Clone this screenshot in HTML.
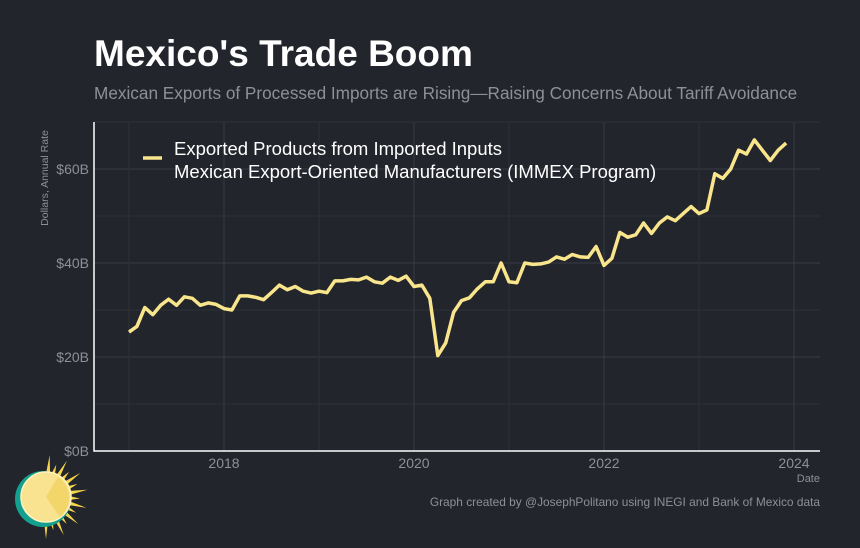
<!DOCTYPE html>
<html><head><meta charset="utf-8"><style>
html,body{margin:0;background:#22252c;overflow:hidden;width:860px;height:548px;}
svg{display:block;}
svg text{font-family:"Liberation Sans",sans-serif;}
</style></head><body>
<svg width="860" height="548" xmlns="http://www.w3.org/2000/svg">
<rect width="860" height="548" fill="#22252c"/>
<text x="94" y="66" font-size="37" font-weight="bold" fill="#fff">Mexico's Trade Boom</text>
<text x="94" y="99" font-size="17.2" fill="#8e9097">Mexican Exports of Processed Imports are Rising—Raising Concerns About Tariff Avoidance</text>
<g id="grid"></g>
<g id="axes"></g>
<path id="line" fill="none" stroke="#f9e58b" stroke-width="3.5" stroke-linejoin="round"/>
<g>
<line x1="143" y1="158" x2="162" y2="158" stroke="#f9e58b" stroke-width="3.5"/>
<text x="174" y="155" font-size="18.5" fill="#fff">Exported Products from Imported Inputs</text>
<text x="174" y="178" font-size="18.5" fill="#fff">Mexican Export-Oriented Manufacturers (IMMEX Program)</text>
</g>
<text transform="translate(48,178) rotate(-90)" text-anchor="middle" font-size="10.5" fill="#8e9097">Dollars, Annual Rate</text>
<text x="820" y="482" text-anchor="end" font-size="11" fill="#8e9097">Date</text>
<text x="820" y="506" text-anchor="end" font-size="11.9" fill="#8e9097">Graph created by @JosephPolitano using INEGI and Bank of Mexico data</text>
<g>
<g fill="#f5d54a" id="rays"></g>
<circle cx="43" cy="499" r="28" fill="#14a08e"/>
<circle cx="46" cy="497" r="25" fill="#f9e290" stroke="#fff3c0" stroke-width="1.5"/>
<path d="M46,497 L58,477 A25,25 0 0 1 60,517 Z" fill="#f3d66a"/>
</g>
</svg>
<script>
const yearLabels=["2018","2020","2022","2024"];
const yearTicks=[2018,2020,2022,2024];
const yTicks=[0,20,40,60];
const yTickLabels=["$0B","$20B","$40B","$60B"];
const startYear=2017;
const values=[25.3,26.5,30.5,29,31,32.3,31,32.8,32.5,31,31.5,31.2,
30.3,30,33,33,32.7,32.2,33.7,35.3,34.3,35,34,33.6,
34,33.7,36.2,36.2,36.5,36.4,37,36,35.7,37,36.3,37.2,
35,35.3,32.5,20.3,23,29.5,32,32.6,34.5,36,36,40,
36,35.8,40,39.7,39.8,40.2,41.3,40.8,41.8,41.3,41.2,43.5,
39.5,41,46.5,45.5,46,48.5,46.3,48.5,49.8,49,50.5,52,
50.5,51.3,59,58,60,64,63.2,66.2,64,61.8,64,65.5];
const NS="http://www.w3.org/2000/svg";
const L=94,R=820,T=122,B=451;
function xs(t){return 224+(t-2018)*95;}
function ys(v){return B-v*4.7;}
const grid=document.getElementById('grid'),axes=document.getElementById('axes');
function mk(p,tag,a){const e=document.createElementNS(NS,tag);for(const k in a)e.setAttribute(k,a[k]);p.appendChild(e);return e;}
for(let v=10;v<=70;v+=10){const g=mk(grid,'line',{x1:L,x2:R,y1:ys(v),y2:ys(v),stroke:v%20?'#2e3138':'#383b43','stroke-width':1});

}
for(let t=2017;t<=2024;t++){const g=mk(grid,'line',{x1:xs(t),x2:xs(t),y1:T,y2:B,stroke:t%2?'#2e3138':'#383b43','stroke-width':1});

}
const ax=mk(axes,'path',{d:`M${L},${T} V${B} H${R}`,stroke:'#fff',fill:'none','stroke-width':1.5});


yTicks.forEach((v,i)=>{const t=mk(axes,'text',{x:L-5,y:ys(v)+5,'text-anchor':'end','font-size':14,fill:'#8e9097'});t.textContent=yTickLabels[i];

});
yearTicks.forEach((y,i)=>{const t=mk(axes,'text',{x:xs(y),y:B+17,'text-anchor':'middle','font-size':14,fill:'#8e9097'});t.textContent=yearLabels[i];

});
document.getElementById('line').setAttribute('d',values.map((v,i)=>(i?'L':'M')+xs(startYear+i/12).toFixed(1)+','+ys(v).toFixed(1)).join(' '));
const rays=document.getElementById('rays');
const cx=46,cy=497;
for(let k=0;k<=14;k++){const a=5+k*12.5,r=a*Math.PI/180,len=(k%2)?34:42,w=0.1;
const p=mk(rays,'polygon',{points:`${cx+22*Math.sin(r-w)},${cy-22*Math.cos(r-w)} ${cx+len*Math.sin(r)},${cy-len*Math.cos(r)} ${cx+22*Math.sin(r+w)},${cy-22*Math.cos(r+w)}`});

}
</script>
</body></html>
